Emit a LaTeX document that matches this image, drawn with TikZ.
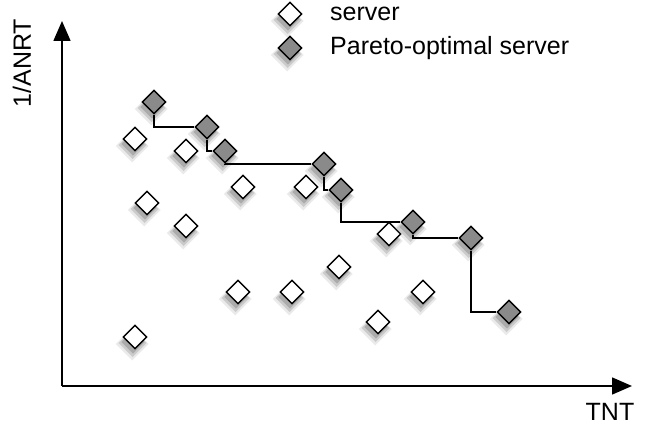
\documentclass[tikz,border=0pt]{standalone}
\usepackage{fontspec}
\setmainfont{Liberation Sans}
\usepackage{tikz}
\usetikzlibrary{arrows.meta,positioning,shapes.geometric,shadows}
\definecolor{boxgray}{HTML}{8A8A8A}
\definecolor{shadowgray}{HTML}{707070}

\begin{document}
\begin{tikzpicture}[x=1pt,y=-1pt,
  srv/.style={diamond,draw=black,fill=white,line width=1.4pt,minimum size=24pt,inner sep=0pt,
    drop shadow={shadow xshift=-2pt,shadow yshift=-5pt,shadow scale=1.4,opacity=0.15,fill=shadowgray},
    drop shadow={shadow xshift=-2pt,shadow yshift=-5pt,shadow scale=1.2,opacity=0.25,fill=shadowgray},
    drop shadow={shadow xshift=-2pt,shadow yshift=-5pt,shadow scale=1.0,opacity=0.35,fill=shadowgray}},
  par/.style={srv,fill=boxgray},
  lk/.style={black,line width=1.6pt},
  ax/.style={-{Triangle[length=20pt,width=17pt]},black,line width=1.6pt},
  lbl/.style={font=\fontsize{25}{29}\selectfont,inner sep=0pt}]
\useasboundingbox (0,0) rectangle (649,427);
% ---------- axes ----------
\coordinate (o) at (62,386);
\coordinate (ytip) at (62,21);
\coordinate (xtip) at (632,386);
\draw[ax] (o) -- (ytip);
\draw[ax] (o) -- (xtip);
\node[lbl,rotate=90] (yl) at (22,63) {1/ANRT};
\node[lbl] (xl) at (610,412) {TNT};
% ---------- servers ----------
\foreach \n/\x/\y in {s1/135/139,s2/186/151,s3/243/187,s4/306/187,s5/147/203,s6/186/226,
  s7/389/234,s8/339/267,s9/238/292,s10/292/292,s11/423/292,s12/378/322,s13/135/337}{
  \node[srv] (\n) at (\x,\y) {};
}
% ---------- pareto front ----------
\foreach \n/\x/\y in {p1/154/102,p2/207/127,p3/225/151,p4/324/164,p5/341/190,p6/413/222,
  p7/471/238,p8/509/312}{
  \node[par] (\n) at (\x,\y) {};
}
\foreach \a/\b in {p1/p2,p2/p3,p3/p4,p4/p5,p5/p6,p6/p7,p7/p8}{\draw[lk] (\a.south) |- (\b.west);}
% ---------- legend ----------
\node[srv] (lg1) at (290,14) {};
\node[par] (lg2) at (290,48) {};
\node[lbl,anchor=west] (lt1) at (330,14) {server};
\node[lbl,anchor=west] (lt2) at (330,48) {Pareto-optimal server};
\end{tikzpicture}
\end{document}
